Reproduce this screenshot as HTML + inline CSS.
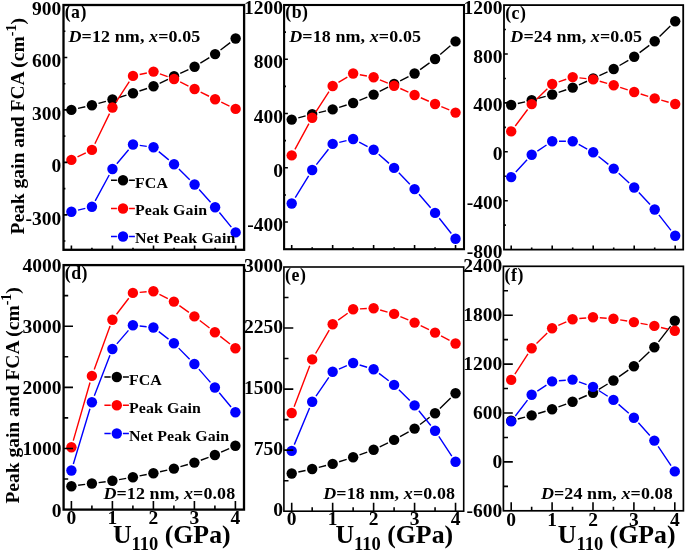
<!DOCTYPE html>
<html><head><meta charset="utf-8"><style>
html,body{margin:0;padding:0;background:#fff;}
svg{display:block;will-change:transform;}
text{font-family:"Liberation Serif",serif;font-weight:bold;fill:#000;}
.tl{font-size:19.5px;}
.pl{font-size:17.8px;letter-spacing:0.5px;}
.dt{font-size:18px;letter-spacing:0.1px;}
.lg{font-size:15.9px;letter-spacing:0.12px;}
.yt{font-size:19.5px;}
.xt{font-size:25.8px;}
</style></head><body>
<svg width="685" height="551" viewBox="0 0 685 551">
<rect width="685" height="551" fill="#fff"/>
<g><path d="M78.04 108.41L85.29 106.79M98.47 103.45L105.92 101.35M118.96 97.51L126.49 95.19M139.44 91.03L147.07 88.47M159.63 83.32L167.94 79.28M180.22 73.44L188.41 69.66M200.36 63.22L209.33 57.68M220.52 49.99L230.23 42.61" stroke="#000" stroke-width="1.4" fill="none"/>
<circle cx="71.4" cy="109.9" r="5.2" fill="#000"/>
<circle cx="91.93" cy="105.3" r="5.2" fill="#000"/>
<circle cx="112.46" cy="99.5" r="5.2" fill="#000"/>
<circle cx="132.99" cy="93.2" r="5.2" fill="#000"/>
<circle cx="153.52" cy="86.3" r="5.2" fill="#000"/>
<circle cx="174.05" cy="76.3" r="5.2" fill="#000"/>
<circle cx="194.58" cy="66.8" r="5.2" fill="#000"/>
<circle cx="215.11" cy="54.1" r="5.2" fill="#000"/>
<circle cx="235.64" cy="38.5" r="5.2" fill="#000"/>
<path d="M77.51 156.92L85.82 152.88M94.89 143.78L109.5 113.62M116.16 101.8L129.29 81.6M139.65 74.51L146.86 72.99M159.92 73.91L167.65 76.69M180.16 81.98L188.47 86.02M200.66 92.05L209.03 96.25M221.27 102.18L229.48 106.02" stroke="#f00" stroke-width="1.4" fill="none"/>
<circle cx="71.4" cy="159.9" r="5.2" fill="#f00"/>
<circle cx="91.93" cy="149.9" r="5.2" fill="#f00"/>
<circle cx="112.46" cy="107.5" r="5.2" fill="#f00"/>
<circle cx="132.99" cy="75.9" r="5.2" fill="#f00"/>
<circle cx="153.52" cy="71.6" r="5.2" fill="#f00"/>
<circle cx="174.05" cy="79" r="5.2" fill="#f00"/>
<circle cx="194.58" cy="89" r="5.2" fill="#f00"/>
<circle cx="215.11" cy="99.3" r="5.2" fill="#f00"/>
<circle cx="235.64" cy="108.9" r="5.2" fill="#f00"/>
<path d="M78.01 210.12L85.32 208.38M95.18 200.82L109.21 174.98M116.83 163.79L128.62 149.71M139.73 145.42L146.78 146.38M158.77 151.62L168.8 159.88M178.89 168.98L189.74 179.72M199.13 189.55L210.56 202.25M219.42 212.56L231.33 227.14" stroke="#00f" stroke-width="1.4" fill="none"/>
<circle cx="71.4" cy="211.7" r="5.2" fill="#00f"/>
<circle cx="91.93" cy="206.8" r="5.2" fill="#00f"/>
<circle cx="112.46" cy="169" r="5.2" fill="#00f"/>
<circle cx="132.99" cy="144.5" r="5.2" fill="#00f"/>
<circle cx="153.52" cy="147.3" r="5.2" fill="#00f"/>
<circle cx="174.05" cy="164.2" r="5.2" fill="#00f"/>
<circle cx="194.58" cy="184.5" r="5.2" fill="#00f"/>
<circle cx="215.11" cy="207.3" r="5.2" fill="#00f"/>
<circle cx="235.64" cy="232.4" r="5.2" fill="#00f"/>
<rect x="63.5" y="5" width="180.6" height="244.8" fill="none" stroke="#000" stroke-width="2.3"/>
<path d="M63.5 241.06h1.9M63.5 214.83h3.8M63.5 188.6h1.9M63.5 162.37h3.8M63.5 136.14h1.9M63.5 109.91h3.8M63.5 83.69h1.9M63.5 57.46h3.8M63.5 31.23h1.9M71.4 249.8v-4.2M91.93 249.8v-2M112.46 249.8v-4.2M132.99 249.8v-2M153.52 249.8v-4.2M174.05 249.8v-2M194.58 249.8v-4.2M215.11 249.8v-2M235.64 249.8v-4.2" stroke="#000" stroke-width="1.6" fill="none"/>
<text class="tl" x="61.3" y="224.83" text-anchor="end">-300</text>
<text class="tl" x="61.3" y="172.37" text-anchor="end">0</text>
<text class="tl" x="61.3" y="119.91" text-anchor="end">300</text>
<text class="tl" x="61.3" y="67.46" text-anchor="end">600</text>
<text class="tl" x="61.3" y="15" text-anchor="end">900</text>
<text class="pl" x="64.7" y="18.4">(a)</text>
<text class="dt" transform="translate(68.5 42.2) scale(1 0.91)"><tspan font-style="italic">D</tspan>=12 nm, <tspan font-style="italic">x</tspan>=0.05</text></g>
<g><path d="M298.27 117.84L305.61 115.86M318.81 112.58L326.03 110.92M339.15 107.37L346.65 105.03M359.43 100.42L367.33 97.18M379.65 91.45L388.07 87.05M400.16 80.82L408.52 76.58M420.13 69.57L429.51 62.93M440.22 54.57L450.38 45.83" stroke="#000" stroke-width="1.4" fill="none"/>
<circle cx="291.7" cy="119.6" r="5.2" fill="#000"/>
<circle cx="312.18" cy="114.1" r="5.2" fill="#000"/>
<circle cx="332.66" cy="109.4" r="5.2" fill="#000"/>
<circle cx="353.14" cy="103" r="5.2" fill="#000"/>
<circle cx="373.62" cy="94.6" r="5.2" fill="#000"/>
<circle cx="394.1" cy="83.9" r="5.2" fill="#000"/>
<circle cx="414.58" cy="73.5" r="5.2" fill="#000"/>
<circle cx="435.06" cy="59" r="5.2" fill="#000"/>
<circle cx="455.54" cy="41.4" r="5.2" fill="#000"/>
<path d="M294.95 149.42L308.93 123.68M315.87 111.99L328.97 91.71M338.46 82.46L347.34 77.04M359.83 74.71L366.93 75.99M379.9 79.81L387.82 83.09M400.29 88.51L408.39 92.19M420.81 97.74L428.83 101.26M441.33 106.63L449.27 109.97" stroke="#f00" stroke-width="1.4" fill="none"/>
<circle cx="291.7" cy="155.4" r="5.2" fill="#f00"/>
<circle cx="312.18" cy="117.7" r="5.2" fill="#f00"/>
<circle cx="332.66" cy="86" r="5.2" fill="#f00"/>
<circle cx="353.14" cy="73.5" r="5.2" fill="#f00"/>
<circle cx="373.62" cy="77.2" r="5.2" fill="#f00"/>
<circle cx="394.1" cy="85.7" r="5.2" fill="#f00"/>
<circle cx="414.58" cy="95" r="5.2" fill="#f00"/>
<circle cx="435.06" cy="104" r="5.2" fill="#f00"/>
<circle cx="455.54" cy="112.6" r="5.2" fill="#f00"/>
<path d="M295.25 197.7L308.63 175.8M316.38 164.65L328.46 149.25M339.27 142.32L346.53 140.58M359.17 142.15L367.59 146.55M378.7 154.22L389.02 163.38M398.82 172.79L409.86 184.21M419.02 194.25L430.62 207.75M439.28 218.23L451.32 233.47" stroke="#00f" stroke-width="1.4" fill="none"/>
<circle cx="291.7" cy="203.5" r="5.2" fill="#00f"/>
<circle cx="312.18" cy="170" r="5.2" fill="#00f"/>
<circle cx="332.66" cy="143.9" r="5.2" fill="#00f"/>
<circle cx="353.14" cy="139" r="5.2" fill="#00f"/>
<circle cx="373.62" cy="149.7" r="5.2" fill="#00f"/>
<circle cx="394.1" cy="167.9" r="5.2" fill="#00f"/>
<circle cx="414.58" cy="189.1" r="5.2" fill="#00f"/>
<circle cx="435.06" cy="212.9" r="5.2" fill="#00f"/>
<circle cx="455.54" cy="238.8" r="5.2" fill="#00f"/>
<rect x="284.1" y="5" width="179.9" height="244.2" fill="none" stroke="#000" stroke-width="2.1"/>
<path d="M284.1 222.07h3.8M284.1 194.93h1.9M284.1 167.8h3.8M284.1 140.67h1.9M284.1 113.53h3.8M284.1 86.4h1.9M284.1 59.27h3.8M284.1 32.13h1.9M291.7 249.2v-4.2M312.18 249.2v-2M332.66 249.2v-4.2M353.14 249.2v-2M373.62 249.2v-4.2M394.1 249.2v-2M414.58 249.2v-4.2M435.06 249.2v-2M455.54 249.2v-4.2" stroke="#000" stroke-width="1.6" fill="none"/>
<text class="tl" x="283.1" y="231.27" text-anchor="end">-400</text>
<text class="tl" x="283.1" y="177" text-anchor="end">0</text>
<text class="tl" x="283.1" y="122.73" text-anchor="end">400</text>
<text class="tl" x="283.1" y="68.47" text-anchor="end">800</text>
<text class="tl" x="283.1" y="14.2" text-anchor="end">1200</text>
<text class="pl" x="285.3" y="18.4">(b)</text>
<text class="dt" transform="translate(289.2 42.2) scale(1 0.91)"><tspan font-style="italic">D</tspan>=18 nm, <tspan font-style="italic">x</tspan>=0.05</text></g>
<g><path d="M517.83 103.48L525.07 101.82M538.24 98.45L545.66 96.35M558.64 92.33L566.26 89.77M578.92 84.84L586.98 81.26M599.37 75.64L607.53 71.86M619.54 65.52L628.36 60.28M639.61 52.68L649.29 45.32M659.57 36.45L670.33 25.95" stroke="#000" stroke-width="1.4" fill="none"/>
<circle cx="511.2" cy="105" r="5.2" fill="#000"/>
<circle cx="531.7" cy="100.3" r="5.2" fill="#000"/>
<circle cx="552.2" cy="94.5" r="5.2" fill="#000"/>
<circle cx="572.7" cy="87.6" r="5.2" fill="#000"/>
<circle cx="593.2" cy="78.5" r="5.2" fill="#000"/>
<circle cx="613.7" cy="69" r="5.2" fill="#000"/>
<circle cx="634.2" cy="56.8" r="5.2" fill="#000"/>
<circle cx="654.7" cy="41.2" r="5.2" fill="#000"/>
<circle cx="675.2" cy="21.2" r="5.2" fill="#000"/>
<path d="M515.28 125.96L527.62 109.54M536.56 99.34L547.34 88.76M558.64 81.83L566.26 79.27M579.46 77.86L586.44 78.64M599.73 81.28L607.17 83.42M620.16 87.41L627.74 89.89M640.69 94.03L648.21 96.37M661.26 100.19L668.64 102.21" stroke="#f00" stroke-width="1.4" fill="none"/>
<circle cx="511.2" cy="131.4" r="5.2" fill="#f00"/>
<circle cx="531.7" cy="104.1" r="5.2" fill="#f00"/>
<circle cx="552.2" cy="84" r="5.2" fill="#f00"/>
<circle cx="572.7" cy="77.1" r="5.2" fill="#f00"/>
<circle cx="593.2" cy="79.4" r="5.2" fill="#f00"/>
<circle cx="613.7" cy="85.3" r="5.2" fill="#f00"/>
<circle cx="634.2" cy="92" r="5.2" fill="#f00"/>
<circle cx="654.7" cy="98.4" r="5.2" fill="#f00"/>
<circle cx="675.2" cy="104" r="5.2" fill="#f00"/>
<path d="M515.8 172.09L527.1 159.81M537.38 151.06L546.52 145.04M559 141.3L565.9 141.3M578.7 144.49L587.2 149.01M598.51 156.45L608.39 164.35M618.7 173.21L629.2 182.89M638.84 192.47L650.06 204.53M658.89 214.86L671.01 230.34" stroke="#00f" stroke-width="1.4" fill="none"/>
<circle cx="511.2" cy="177.1" r="5.2" fill="#00f"/>
<circle cx="531.7" cy="154.8" r="5.2" fill="#00f"/>
<circle cx="552.2" cy="141.3" r="5.2" fill="#00f"/>
<circle cx="572.7" cy="141.3" r="5.2" fill="#00f"/>
<circle cx="593.2" cy="152.2" r="5.2" fill="#00f"/>
<circle cx="613.7" cy="168.6" r="5.2" fill="#00f"/>
<circle cx="634.2" cy="187.5" r="5.2" fill="#00f"/>
<circle cx="654.7" cy="209.5" r="5.2" fill="#00f"/>
<circle cx="675.2" cy="235.7" r="5.2" fill="#00f"/>
<rect x="504" y="5.1" width="179.2" height="244.5" fill="none" stroke="#000" stroke-width="1.8"/>
<path d="M504 225.15h1.9M504 200.7h3.8M504 176.25h1.9M504 151.8h3.8M504 127.35h1.9M504 102.9h3.8M504 78.45h1.9M504 54h3.8M504 29.55h1.9M511.2 249.6v-4.2M531.7 249.6v-2M552.2 249.6v-4.2M572.7 249.6v-2M593.2 249.6v-4.2M613.7 249.6v-2M634.2 249.6v-4.2M654.7 249.6v-2M675.2 249.6v-4.2" stroke="#000" stroke-width="1.6" fill="none"/>
<text class="tl" x="502.5" y="258.1" text-anchor="end">-800</text>
<text class="tl" x="502.5" y="209.2" text-anchor="end">-400</text>
<text class="tl" x="502.5" y="160.3" text-anchor="end">0</text>
<text class="tl" x="502.5" y="111.4" text-anchor="end">400</text>
<text class="tl" x="502.5" y="62.5" text-anchor="end">800</text>
<text class="tl" x="502.5" y="13.6" text-anchor="end">1200</text>
<text class="pl" x="505.2" y="18.5">(c)</text>
<text class="dt" transform="translate(510.3 42.2) scale(1 0.91)"><tspan font-style="italic">D</tspan>=24 nm, <tspan font-style="italic">x</tspan>=0.05</text></g>
<g><path d="M78.14 485.31L85.16 484.39M98.64 482.61L105.66 481.69M119.1 479.62L126.2 478.38M139.57 475.9L146.73 474.5M160.04 471.71L167.26 470.09M180.43 466.69L187.87 464.51M200.78 460.24L208.52 457.36M221.1 452.22L229.2 448.58" stroke="#000" stroke-width="1.4" fill="none"/>
<circle cx="71.4" cy="486.2" r="5.2" fill="#000"/>
<circle cx="91.9" cy="483.5" r="5.2" fill="#000"/>
<circle cx="112.4" cy="480.8" r="5.2" fill="#000"/>
<circle cx="132.9" cy="477.2" r="5.2" fill="#000"/>
<circle cx="153.4" cy="473.2" r="5.2" fill="#000"/>
<circle cx="173.9" cy="468.6" r="5.2" fill="#000"/>
<circle cx="194.4" cy="462.6" r="5.2" fill="#000"/>
<circle cx="214.9" cy="455" r="5.2" fill="#000"/>
<circle cx="235.4" cy="445.8" r="5.2" fill="#000"/>
<path d="M73.28 440.66L90.02 382.44M94.23 369.51L110.07 326.09M116.53 314.3L128.77 298.3M139.68 292.34L146.62 291.76M159.46 294.28L167.84 298.52M179.41 305.58L188.89 312.42M199.79 320.55L209.51 328.05M220.26 336.38L230.04 344.02" stroke="#f00" stroke-width="1.4" fill="none"/>
<circle cx="71.4" cy="447.2" r="5.2" fill="#f00"/>
<circle cx="91.9" cy="375.9" r="5.2" fill="#f00"/>
<circle cx="112.4" cy="319.7" r="5.2" fill="#f00"/>
<circle cx="132.9" cy="292.9" r="5.2" fill="#f00"/>
<circle cx="153.4" cy="291.2" r="5.2" fill="#f00"/>
<circle cx="173.9" cy="301.6" r="5.2" fill="#f00"/>
<circle cx="194.4" cy="316.4" r="5.2" fill="#f00"/>
<circle cx="214.9" cy="332.2" r="5.2" fill="#f00"/>
<circle cx="235.4" cy="348.2" r="5.2" fill="#f00"/>
<path d="M73.35 463.99L89.95 408.71M94.35 395.85L109.95 355.35M116.84 343.85L128.46 330.35M139.66 325.96L146.64 326.74M158.79 331.65L168.51 339.15M178.68 348.13L189.62 359.17M198.87 369.12L210.43 382.38M219.24 392.73L231.06 406.97" stroke="#00f" stroke-width="1.4" fill="none"/>
<circle cx="71.4" cy="470.5" r="5.2" fill="#00f"/>
<circle cx="91.9" cy="402.2" r="5.2" fill="#00f"/>
<circle cx="112.4" cy="349" r="5.2" fill="#00f"/>
<circle cx="132.9" cy="325.2" r="5.2" fill="#00f"/>
<circle cx="153.4" cy="327.5" r="5.2" fill="#00f"/>
<circle cx="173.9" cy="343.3" r="5.2" fill="#00f"/>
<circle cx="194.4" cy="364" r="5.2" fill="#00f"/>
<circle cx="214.9" cy="387.5" r="5.2" fill="#00f"/>
<circle cx="235.4" cy="412.2" r="5.2" fill="#00f"/>
<rect x="63.6" y="265.1" width="180.4" height="244.5" fill="none" stroke="#000" stroke-width="2.3"/>
<path d="M63.6 479.04h4.6M63.6 448.48h9.4M63.6 417.91h4.6M63.6 387.35h9.4M63.6 356.79h4.6M63.6 326.23h9.4M63.6 295.66h4.6M71.4 509.6v-8.5M91.9 509.6v-4M112.4 509.6v-8.5M132.9 509.6v-4M153.4 509.6v-8.5M173.9 509.6v-4M194.4 509.6v-8.5M214.9 509.6v-4M235.4 509.6v-8.5" stroke="#000" stroke-width="1.6" fill="none"/>
<text class="tl" x="61.6" y="516.5" text-anchor="end">0</text>
<text class="tl" x="61.6" y="455.38" text-anchor="end">1000</text>
<text class="tl" x="61.6" y="394.25" text-anchor="end">2000</text>
<text class="tl" x="61.6" y="333.13" text-anchor="end">3000</text>
<text class="tl" x="61.6" y="272" text-anchor="end">4000</text>
<text class="tl" x="71.4" y="523.8" text-anchor="middle">0</text>
<text class="tl" x="112.4" y="523.8" text-anchor="middle">1</text>
<text class="tl" x="153.4" y="523.8" text-anchor="middle">2</text>
<text class="tl" x="194.4" y="523.8" text-anchor="middle">3</text>
<text class="tl" x="235.4" y="523.8" text-anchor="middle">4</text>
<text class="pl" x="64.8" y="279.4">(d)</text>
<text class="dt" text-anchor="end" transform="translate(235.3 498.6) scale(1 0.91)"><tspan font-style="italic">D</tspan>=12 nm, <tspan font-style="italic">x</tspan>=0.08</text></g>
<g><path d="M298.34 472.04L305.54 470.46M318.78 467.36L326.06 465.54M339.12 461.79L346.68 459.31M359.53 454.86L367.23 452.04M379.75 446.76L387.97 442.84M400.05 436.61L408.63 431.89M420.01 424.51L429.63 417.29M439.92 408.45L450.68 397.95" stroke="#000" stroke-width="1.4" fill="none"/>
<circle cx="291.7" cy="473.5" r="5.2" fill="#000"/>
<circle cx="312.18" cy="469" r="5.2" fill="#000"/>
<circle cx="332.66" cy="463.9" r="5.2" fill="#000"/>
<circle cx="353.14" cy="457.2" r="5.2" fill="#000"/>
<circle cx="373.62" cy="449.7" r="5.2" fill="#000"/>
<circle cx="394.1" cy="439.9" r="5.2" fill="#000"/>
<circle cx="414.58" cy="428.6" r="5.2" fill="#000"/>
<circle cx="435.06" cy="413.2" r="5.2" fill="#000"/>
<circle cx="455.54" cy="393.2" r="5.2" fill="#000"/>
<path d="M294.13 406.65L309.75 365.75M315.6 353.52L329.24 330.08M338.15 320.18L347.65 313.22M359.93 308.87L366.83 308.53M380.17 310.02L387.55 312.08M400.36 316.56L408.32 319.94M420.69 325.58L428.95 329.62M441.06 335.79L449.54 340.31" stroke="#f00" stroke-width="1.4" fill="none"/>
<circle cx="291.7" cy="413" r="5.2" fill="#f00"/>
<circle cx="312.18" cy="359.4" r="5.2" fill="#f00"/>
<circle cx="332.66" cy="324.2" r="5.2" fill="#f00"/>
<circle cx="353.14" cy="309.2" r="5.2" fill="#f00"/>
<circle cx="373.62" cy="308.2" r="5.2" fill="#f00"/>
<circle cx="394.1" cy="313.9" r="5.2" fill="#f00"/>
<circle cx="414.58" cy="322.6" r="5.2" fill="#f00"/>
<circle cx="435.06" cy="332.6" r="5.2" fill="#f00"/>
<circle cx="455.54" cy="343.5" r="5.2" fill="#f00"/>
<path d="M294.31 444.62L309.57 407.98M316.02 396.09L328.82 377.41M338.91 369.12L346.89 365.68M359.65 364.97L367.11 367.23M379.02 373.34L388.7 380.76M398.91 389.71L409.77 400.59M418.85 410.69L430.79 425.51M438.81 436.47L451.79 456.13" stroke="#00f" stroke-width="1.4" fill="none"/>
<circle cx="291.7" cy="450.9" r="5.2" fill="#00f"/>
<circle cx="312.18" cy="401.7" r="5.2" fill="#00f"/>
<circle cx="332.66" cy="371.8" r="5.2" fill="#00f"/>
<circle cx="353.14" cy="363" r="5.2" fill="#00f"/>
<circle cx="373.62" cy="369.2" r="5.2" fill="#00f"/>
<circle cx="394.1" cy="384.9" r="5.2" fill="#00f"/>
<circle cx="414.58" cy="405.4" r="5.2" fill="#00f"/>
<circle cx="435.06" cy="430.8" r="5.2" fill="#00f"/>
<circle cx="455.54" cy="461.8" r="5.2" fill="#00f"/>
<rect x="283.9" y="267" width="179.8" height="244.2" fill="none" stroke="#000" stroke-width="1.6"/>
<path d="M283.9 480.68h4.6M283.9 450.15h9.4M283.9 419.62h4.6M283.9 389.1h9.4M283.9 358.57h4.6M283.9 328.05h9.4M283.9 297.52h4.6M291.7 511.2v-8.5M312.18 511.2v-4M332.66 511.2v-8.5M353.14 511.2v-4M373.62 511.2v-8.5M394.1 511.2v-4M414.58 511.2v-8.5M435.06 511.2v-4M455.54 511.2v-8.5" stroke="#000" stroke-width="1.6" fill="none"/>
<text class="tl" x="283.1" y="516" text-anchor="end">0</text>
<text class="tl" x="283.1" y="454.95" text-anchor="end">750</text>
<text class="tl" x="283.1" y="393.9" text-anchor="end">1500</text>
<text class="tl" x="283.1" y="332.85" text-anchor="end">2250</text>
<text class="tl" x="283.1" y="271.8" text-anchor="end">3000</text>
<text class="tl" x="291.7" y="525.4" text-anchor="middle">0</text>
<text class="tl" x="332.66" y="525.4" text-anchor="middle">1</text>
<text class="tl" x="373.62" y="525.4" text-anchor="middle">2</text>
<text class="tl" x="414.58" y="525.4" text-anchor="middle">3</text>
<text class="tl" x="455.54" y="525.4" text-anchor="middle">4</text>
<text class="pl" x="285.1" y="281">(e)</text>
<text class="dt" text-anchor="end" transform="translate(455.1 498.6) scale(1 0.91)"><tspan font-style="italic">D</tspan>=18 nm, <tspan font-style="italic">x</tspan>=0.08</text></g>
<g><path d="M517.78 418.99L525.07 417.11M538.17 413.46L545.58 411.24M558.47 406.93L566.18 404.07M578.79 398.99L586.76 395.51M598.83 389.3L607.62 384M619.04 376.62L628.31 370.18M638.87 361.66L649.38 351.84M658.51 341.82L670.64 326.18" stroke="#000" stroke-width="1.4" fill="none"/>
<circle cx="511.2" cy="420.7" r="5.2" fill="#000"/>
<circle cx="531.65" cy="415.4" r="5.2" fill="#000"/>
<circle cx="552.1" cy="409.3" r="5.2" fill="#000"/>
<circle cx="572.55" cy="401.7" r="5.2" fill="#000"/>
<circle cx="593" cy="392.8" r="5.2" fill="#000"/>
<circle cx="613.45" cy="380.5" r="5.2" fill="#000"/>
<circle cx="633.9" cy="366.3" r="5.2" fill="#000"/>
<circle cx="654.35" cy="347.2" r="5.2" fill="#000"/>
<circle cx="674.8" cy="320.8" r="5.2" fill="#000"/>
<path d="M514.89 374.19L527.96 353.91M536.51 343.45L547.24 332.95M558.32 325.46L566.33 321.94M579.32 318.57L586.23 317.93M599.78 317.76L606.67 318.24M620.16 319.82L627.19 320.98M640.59 323.34L647.66 324.66M660.96 327.48L668.19 329.22" stroke="#f00" stroke-width="1.4" fill="none"/>
<circle cx="511.2" cy="379.9" r="5.2" fill="#f00"/>
<circle cx="531.65" cy="348.2" r="5.2" fill="#f00"/>
<circle cx="552.1" cy="328.2" r="5.2" fill="#f00"/>
<circle cx="572.55" cy="319.2" r="5.2" fill="#f00"/>
<circle cx="593" cy="317.3" r="5.2" fill="#f00"/>
<circle cx="613.45" cy="318.7" r="5.2" fill="#f00"/>
<circle cx="633.9" cy="322.1" r="5.2" fill="#f00"/>
<circle cx="654.35" cy="325.9" r="5.2" fill="#f00"/>
<circle cx="674.8" cy="330.8" r="5.2" fill="#f00"/>
<path d="M515.34 416.01L527.51 400.19M537.34 391.07L546.41 385.13M558.87 380.8L565.78 380.2M578.96 381.87L586.59 384.58M598.73 390.51L607.72 396.24M618.58 404.36L628.77 413.24M638.43 422.77L649.82 435.53M658.11 446.27L671.04 465.73" stroke="#00f" stroke-width="1.4" fill="none"/>
<circle cx="511.2" cy="421.4" r="5.2" fill="#00f"/>
<circle cx="531.65" cy="394.8" r="5.2" fill="#00f"/>
<circle cx="552.1" cy="381.4" r="5.2" fill="#00f"/>
<circle cx="572.55" cy="379.6" r="5.2" fill="#00f"/>
<circle cx="593" cy="386.85" r="5.2" fill="#00f"/>
<circle cx="613.45" cy="399.9" r="5.2" fill="#00f"/>
<circle cx="633.9" cy="417.7" r="5.2" fill="#00f"/>
<circle cx="654.35" cy="440.6" r="5.2" fill="#00f"/>
<circle cx="674.8" cy="471.4" r="5.2" fill="#00f"/>
<rect x="503.4" y="266.3" width="180" height="244.5" fill="none" stroke="#000" stroke-width="1.7"/>
<path d="M503.4 486.35h4.6M503.4 461.9h9.4M503.4 437.45h4.6M503.4 413h9.4M503.4 388.55h4.6M503.4 364.1h9.4M503.4 339.65h4.6M503.4 315.2h9.4M503.4 290.75h4.6M511.2 510.8v-8.5M531.65 510.8v-4M552.1 510.8v-8.5M572.55 510.8v-4M593 510.8v-8.5M613.45 510.8v-4M633.9 510.8v-8.5M654.35 510.8v-4M674.8 510.8v-8.5" stroke="#000" stroke-width="1.6" fill="none"/>
<text class="tl" x="502.2" y="516.6" text-anchor="end">-600</text>
<text class="tl" x="502.2" y="467.7" text-anchor="end">0</text>
<text class="tl" x="502.2" y="418.8" text-anchor="end">600</text>
<text class="tl" x="502.2" y="369.9" text-anchor="end">1200</text>
<text class="tl" x="502.2" y="321" text-anchor="end">1800</text>
<text class="tl" x="502.2" y="272.1" text-anchor="end">2400</text>
<text class="tl" x="511.2" y="525.8" text-anchor="middle">0</text>
<text class="tl" x="552.1" y="525.8" text-anchor="middle">1</text>
<text class="tl" x="593" y="525.8" text-anchor="middle">2</text>
<text class="tl" x="633.9" y="525.8" text-anchor="middle">3</text>
<text class="tl" x="674.8" y="525.8" text-anchor="middle">4</text>
<text class="pl" x="504.6" y="280.7">(f)</text>
<text class="dt" text-anchor="end" transform="translate(672.8 498.6) scale(1 0.91)"><tspan font-style="italic">D</tspan>=24 nm, <tspan font-style="italic">x</tspan>=0.08</text></g>
<path d="M111 180.3H116.9 M129.1 180.3H134.9" stroke="#000" stroke-width="1.4"/>
<circle cx="123" cy="180.3" r="5.2" fill="#000"/>
<text class="lg" transform="translate(135 187.9) scale(1 0.92)">FCA</text>
<path d="M111 208.5H116.9 M129.1 208.5H134.9" stroke="#f00" stroke-width="1.4"/>
<circle cx="123" cy="208.5" r="5.2" fill="#f00"/>
<text class="lg" transform="translate(135 215.2) scale(1 0.92)">Peak Gain</text>
<path d="M111 236.5H116.9 M129.1 236.5H134.9" stroke="#00f" stroke-width="1.4"/>
<circle cx="123" cy="236.5" r="5.2" fill="#00f"/>
<text class="lg" transform="translate(135 243.4) scale(1 0.92)">Net Peak Gain</text>
<path d="M104.4 377H110.7 M122.9 377H128.9" stroke="#000" stroke-width="1.4"/>
<circle cx="116.8" cy="377" r="5.2" fill="#000"/>
<text class="lg" transform="translate(128.9 384.6) scale(1 0.92)">FCA</text>
<path d="M104.4 405.3H110.7 M122.9 405.3H128.9" stroke="#f00" stroke-width="1.4"/>
<circle cx="116.8" cy="405.3" r="5.2" fill="#f00"/>
<text class="lg" transform="translate(128.9 412.7) scale(1 0.92)">Peak Gain</text>
<path d="M104.4 433.5H110.7 M122.9 433.5H128.9" stroke="#00f" stroke-width="1.4"/>
<circle cx="116.8" cy="433.5" r="5.2" fill="#00f"/>
<text class="lg" transform="translate(128.9 440.9) scale(1 0.92)">Net Peak Gain</text>
<text class="yt" transform="translate(24.2 234.5) rotate(-90)">Peak gain and FCA (cm<tspan font-size="14" dy="-8.4">-1</tspan><tspan dy="8.4">)</tspan></text>
<text class="yt" transform="translate(18.9 503.6) rotate(-90)">Peak gain and FCA (cm<tspan font-size="14" dy="-8.4">-1</tspan><tspan dy="8.4">)</tspan></text>
<text class="xt" x="112.9" y="543">U<tspan font-size="18.5" dy="6.6">110</tspan><tspan dy="-6.6"> (GPa)</tspan></text>
<text class="xt" x="335.4" y="543">U<tspan font-size="18.5" dy="6.6">110</tspan><tspan dy="-6.6"> (GPa)</tspan></text>
<text class="xt" x="557.8" y="543">U<tspan font-size="18.5" dy="6.6">110</tspan><tspan dy="-6.6"> (GPa)</tspan></text>
</svg>
</body></html>
